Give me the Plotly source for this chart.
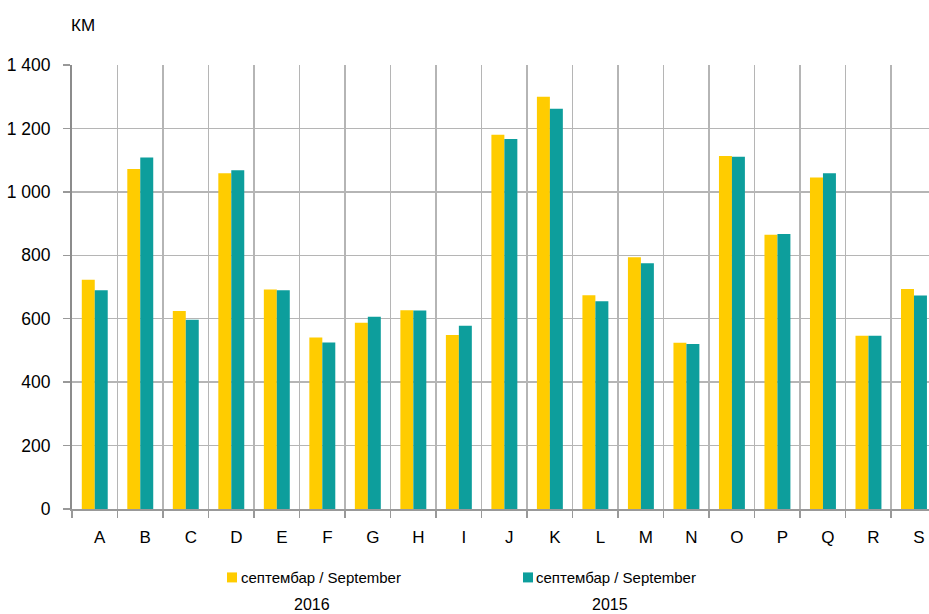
import plotly.graph_objects as go

categories = list("ABCDEFGHIJKLMNOPQRS")
values_2016 = [723, 1072, 624, 1059, 692, 541, 587, 627, 549, 1180, 1300, 674, 794, 524, 1113, 865, 1045, 546, 694]
values_2015 = [690, 1108, 597, 1068, 690, 525, 606, 626, 578, 1167, 1262, 655, 775, 520, 1111, 867, 1059, 546, 673]
series_name = "септембар / September"
years = ["2016", "2015"]
y_ticks = [0, 200, 400, 600, 800, 1000, 1200, 1400]
unit_label = "КМ"

c16 = "#FFCC00"
c15 = "#0D9E9C"
W, H = 929, 614
L, T = 72, 65
B = H - 509.5
PW, PH = W - L, H - T - B

def px(x):
    return (x - L) / PW

def py(y):
    return (H - B - y) / PH

reg = "Liberation Sans, Arial"

fig = go.Figure()
fig.add_bar(x=categories, y=values_2016, name=series_name + " " + years[0],
            marker=dict(color=c16, line=dict(width=0)), showlegend=False)
fig.add_bar(x=categories, y=values_2015, name=series_name + " " + years[1],
            marker=dict(color=c15, line=dict(width=0)), showlegend=False)

fig.update_layout(
    width=W, height=H,
    margin=dict(l=L, r=0, t=T, b=B, pad=0),
    paper_bgcolor="white", plot_bgcolor="white",
    barmode="group", bargap=0.43, bargroupgap=0,
    separators=", ",
    font=dict(family=reg, size=17, color="#000000"),
)
fig.update_xaxes(
    range=[-0.5, 18.33], type="category",
    tickson="boundaries", ticks="outside", ticklen=7, tickwidth=1.5, tickcolor="#999999",
    showgrid=True, gridcolor="#B5B5B5", gridwidth=1.5,
    showline=True, linecolor="#999999", linewidth=1.5,
    tickfont=dict(family=reg, size=17), ticklabelshift=5, ticklabelstandoff=12,
    ticklabeloverflow="allow", fixedrange=True,
)
fig.update_yaxes(
    range=[0, 1400], tickvals=y_ticks, tickformat=",d",
    ticks="outside", ticklen=7, tickwidth=1.5, tickcolor="#999999",
    showgrid=True, gridcolor="#B5B5B5", gridwidth=1.5,
    showline=True, linecolor="#8C8C8C", linewidth=2,
    tickfont=dict(family=reg, size=17.5), ticklabelstandoff=9,
    zeroline=False, fixedrange=True,
)

# unit label
fig.add_annotation(text=unit_label, xref="paper", yref="paper", x=px(83), y=py(25),
                   xanchor="center", yanchor="middle", showarrow=False,
                   font=dict(family=reg, size=17))

# custom legend
legend_items = [(c16, 227, 239, 312, years[0]), (c15, 523, 534, 610, years[1])]
for col, sx, tx, yx, yr in legend_items:
    fig.add_shape(type="rect", xref="paper", yref="paper",
                  x0=px(sx), x1=px(sx + 10), y0=py(583), y1=py(573),
                  fillcolor=col, line=dict(width=0))
    fig.add_annotation(text=series_name, xref="paper", yref="paper", x=px(tx), y=py(578),
                       xanchor="left", yanchor="middle", showarrow=False,
                       font=dict(family=reg, size=15))
    fig.add_annotation(text=yr, xref="paper", yref="paper", x=px(yx), y=py(605),
                       xanchor="center", yanchor="middle", showarrow=False,
                       font=dict(family=reg, size=16))

fig.write_html(
    "out.html",
    config={"displayModeBar": False, "staticPlot": True},
    post_script="document.body.style.margin='0';document.body.style.overflow='hidden';",
)
